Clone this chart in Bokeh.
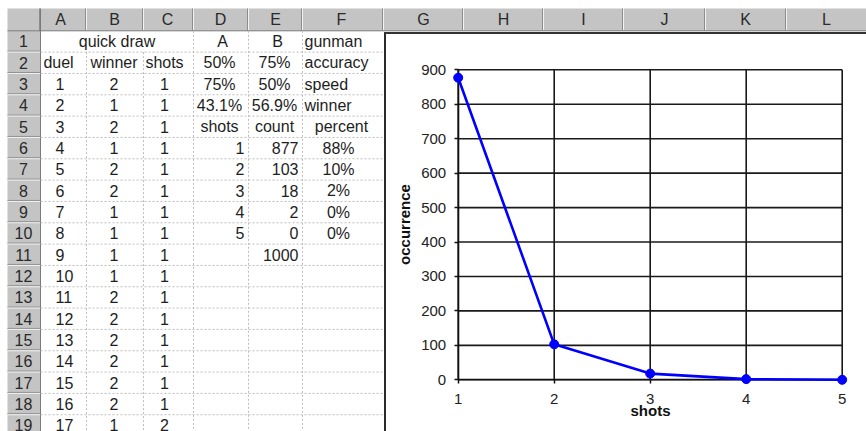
from bokeh.plotting import figure
from bokeh.models import Range1d, FixedTicker, LinearAxis
from bokeh.core.properties import value
from bokeh.embed import file_html
from bokeh.resources import INLINE

# ---------------- data ----------------
col_letters = ["A", "B", "C", "D", "E", "F", "G", "H", "I", "J", "K", "L"]
row_labels = ["1", "2", "3", "4", "5", "6", "7", "8", "9", "10",
              "11", "12", "13", "14", "15", "16", "17", "18", "19"]
title = "quick draw"
duel_header = ["duel", "winner", "shots"]
duel = [1, 2, 3, 4, 5, 6, 7, 8, 9, 10, 11, 12, 13, 14, 15, 16, 17]
winner = [2, 1, 2, 1, 2, 2, 1, 1, 1, 1, 2, 2, 2, 2, 2, 2, 1]
duel_shots = [1, 1, 1, 1, 1, 1, 1, 1, 1, 1, 1, 1, 1, 1, 1, 1, 2]
gunman_header = ["A", "B", "gunman"]
param_names = ["accuracy", "speed", "winner"]
param_A = ["50%", "75%", "43.1%"]
param_B = ["75%", "50%", "56.9%"]
dist_header = ["shots", "count", "percent"]
shots = [1, 2, 3, 4, 5]
counts = [877, 103, 18, 2, 0]
percents = ["88%", "10%", "2%", "0%", "0%"]
total = ["1000"]
y_ticks = [0, 100, 200, 300, 400, 500, 600, 700, 800, 900]
x_title = "shots"
y_title = "occurrence"

# ---------------- layout constants (page pixels) ----------------
FONT = value("Liberation Sans")
HDR_FILL = "#c4c4c4"
TXT = "#1e1e1e"
PAGE_W, PAGE_H = 866, 431
HDR_TOP = 8
HDR_BOT = 30.3
ROW_H = 21.33
BOX_X = 384.5          # chart box left border
BOX_Y = 32.5           # chart box top border
col_edges = [7, 40, 86, 143, 193, 248, 302, 383, 463, 543, 623, 705, 786, 866]
hdr_letter_x = [60, 114, 167, 220, 275, 341, 423, 503, 583, 664, 745, 826]
# plot area of the chart (page pixels)
PA_L, PA_R, PA_T, PA_B = 457.7, 841.7, 69.3, 379.3


def row_mid(r):
    return HDR_BOT + (r - 0.5) * ROW_H


def row_top(r):
    return HDR_BOT + (r - 1) * ROW_H


def txt(fig, xs, ys, texts, align, size="16px", color=TXT, style="normal"):
    fig.text(x=xs, y=ys, text=[str(t) for t in texts], text_font=FONT,
             text_font_size=size, text_color=color, text_align=align,
             text_baseline="middle", text_font_style=style)


# chart data ranges mapped onto the full canvas
x_lo, x_hi = shots[0], shots[-1]
y_lo, y_hi = y_ticks[0], y_ticks[-1]
ux = (x_hi - x_lo) / (PA_R - PA_L)
uy = (y_hi - y_lo) / (PA_B - PA_T)
cx = Range1d(x_lo - PA_L * ux, x_hi + (PAGE_W - PA_R) * ux)
cy = Range1d(y_lo - (PAGE_H - PA_B) * uy, y_hi + PA_T * uy)

p = figure(width=PAGE_W, height=PAGE_H,
           x_range=Range1d(0, PAGE_W), y_range=Range1d(PAGE_H, 0),
           x_axis_type=None, y_axis_type=None, min_border=0,
           outline_line_color=None, output_backend="svg",
           toolbar_location=None, background_fill_color="white",
           border_fill_color="white")
p.extra_x_ranges = {"cx": cx}
p.extra_y_ranges = {"cy": cy}

# ---------------- spreadsheet ----------------
p.quad(left=[col_edges[0]], right=[PAGE_W], top=[HDR_TOP], bottom=[HDR_BOT],
       fill_color=HDR_FILL, line_color=None)
p.quad(left=[col_edges[0]], right=[col_edges[1]], top=[HDR_BOT], bottom=[PAGE_H],
       fill_color=HDR_FILL, line_color=None)
sep = col_edges[1:-1]
p.segment(x0=[e - 1 for e in sep], y0=[HDR_TOP] * len(sep), x1=[e - 1 for e in sep],
          y1=[HDR_BOT] * len(sep), line_color="#8c8c8c", line_width=1)
p.segment(x0=sep, y0=[HDR_TOP] * len(sep), x1=sep, y1=[HDR_BOT] * len(sep),
          line_color="#f2f2f2", line_width=1)
rb = [row_top(r) for r in range(2, 21)]
p.segment(x0=[col_edges[0]] * len(rb), y0=[b - 1 for b in rb], x1=[col_edges[1]] * len(rb),
          y1=[b - 1 for b in rb], line_color="#8c8c8c", line_width=1)
p.segment(x0=[col_edges[0]] * len(rb), y0=rb, x1=[col_edges[1]] * len(rb), y1=rb,
          line_color="#f2f2f2", line_width=1)
p.segment(x0=[col_edges[0]], y0=[HDR_BOT], x1=[PAGE_W], y1=[HDR_BOT],
          line_color="#7a7a7a", line_width=1)
p.segment(x0=[col_edges[1]], y0=[HDR_TOP], x1=[col_edges[1]], y1=[PAGE_H],
          line_color="#7a7a7a", line_width=1)

# cell grid (dotted light gray)
p.segment(x0=[col_edges[1]] * len(rb), y0=rb, x1=[BOX_X] * len(rb), y1=rb,
          line_color="#bdbdbd", line_width=1, line_dash="2 2")
vx = col_edges[2:7]
vy0 = [row_top(2), row_top(2), HDR_BOT, HDR_BOT, HDR_BOT]
p.segment(x0=vx, y0=vy0, x1=vx, y1=[PAGE_H] * len(vx),
          line_color="#bdbdbd", line_width=1, line_dash="2 2")

# chart box
p.quad(left=[BOX_X], right=[PAGE_W], top=[BOX_Y], bottom=[PAGE_H],
       fill_color="white", line_color=None)
p.segment(x0=[BOX_X], y0=[BOX_Y - 1], x1=[BOX_X], y1=[PAGE_H],
          line_color="#2a2a2a", line_width=2)
p.segment(x0=[BOX_X - 1], y0=[BOX_Y], x1=[PAGE_W], y1=[BOX_Y],
          line_color="#333333", line_width=2)

# header letters and row numbers
txt(p, hdr_letter_x, [(HDR_TOP + HDR_BOT) / 2] * 12, col_letters, "center", color="#2a2a2a")
txt(p, [23] * len(row_labels), [row_mid(r) for r in range(1, 20)], row_labels, "center",
    color="#2a2a2a")

# row 1
txt(p, [(col_edges[1] + col_edges[4]) / 2], [row_mid(1)], [title], "center")
txt(p, [222, 277], [row_mid(1)] * 2, gunman_header[:2], "center")
txt(p, [304], [row_mid(1)], gunman_header[2:], "left")
# row 2 headers
txt(p, [58, 113.5, 164], [row_mid(2)] * 3, duel_header, "center")
# duel rows 3..19
rows_duel = [row_mid(r) for r in range(3, 20)]
txt(p, [55] * len(duel), rows_duel, duel, "left")
txt(p, [113.5] * len(winner), rows_duel, winner, "center")
txt(p, [164] * len(duel_shots), rows_duel, duel_shots, "center")
# parameters rows 2..4
rows_p = [row_mid(r) for r in range(2, 5)]
txt(p, [219] * 3, rows_p, param_A, "center")
txt(p, [274] * 3, rows_p, param_B, "center")
txt(p, [304] * 3, rows_p, param_names, "left")
# distribution header row 5
txt(p, [219, 274, 341], [row_mid(5)] * 3, dist_header, "center")
rows_d = [row_mid(r) for r in range(6, 11)]
txt(p, [244] * 5, rows_d, shots, "right")
txt(p, [298] * 5, rows_d, counts, "right")
txt(p, [338] * 5, rows_d, percents, "center")
txt(p, [298], [row_mid(11)], total, "right")

# ---------------- chart ----------------
GRID = "#1a1a1a"
p.segment(x0=shots, y0=[y_lo] * len(shots), x1=shots, y1=[y_hi] * len(shots),
          line_color=GRID, line_width=1.6, x_range_name="cx", y_range_name="cy")
p.segment(x0=[x_lo] * len(y_ticks), y0=y_ticks, x1=[x_hi] * len(y_ticks), y1=y_ticks,
          line_color=GRID, line_width=1.6, x_range_name="cx", y_range_name="cy")

p.line(shots, counts, line_color="#0000ff", line_width=2.6,
       x_range_name="cx", y_range_name="cy", level="overlay")
p.scatter(shots, counts, size=9, fill_color="#0000ff", line_color="#0000ff",
          x_range_name="cx", y_range_name="cy", level="overlay")

xaxis = LinearAxis(x_range_name="cx", y_range_name="cy", fixed_location=y_lo,
                   bounds=(x_lo, x_hi), ticker=FixedTicker(ticks=shots),
                   axis_label=x_title)
yaxis = LinearAxis(x_range_name="cx", y_range_name="cy", fixed_location=x_lo,
                   bounds=(y_lo, y_hi), ticker=FixedTicker(ticks=y_ticks),
                   axis_label=y_title)
for ax in (xaxis, yaxis):
    ax.axis_line_color = "#111111"
    ax.axis_line_width = 1.6
    ax.major_tick_line_color = "#111111"
    ax.major_tick_line_width = 1.5
    ax.major_tick_out = 4
    ax.major_tick_in = 0
    ax.minor_tick_out = 0
    ax.minor_tick_in = 0
    ax.major_label_text_font = "Liberation Sans"
    ax.major_label_text_font_size = "15px"
    ax.major_label_text_color = "#222222"
    ax.axis_label_text_font = "Liberation Sans"
    ax.axis_label_text_font_size = "15px"
    ax.axis_label_text_font_style = "bold"
    ax.axis_label_text_color = "#111111"
yaxis.major_label_standoff = 8
xaxis.major_label_standoff = 10
yaxis.axis_label_standoff = 5
xaxis.axis_label_standoff = -5
p.add_layout(xaxis, "below")
p.add_layout(yaxis, "left")

with open("out.html", "w") as f:
    f.write(file_html(p, INLINE))
